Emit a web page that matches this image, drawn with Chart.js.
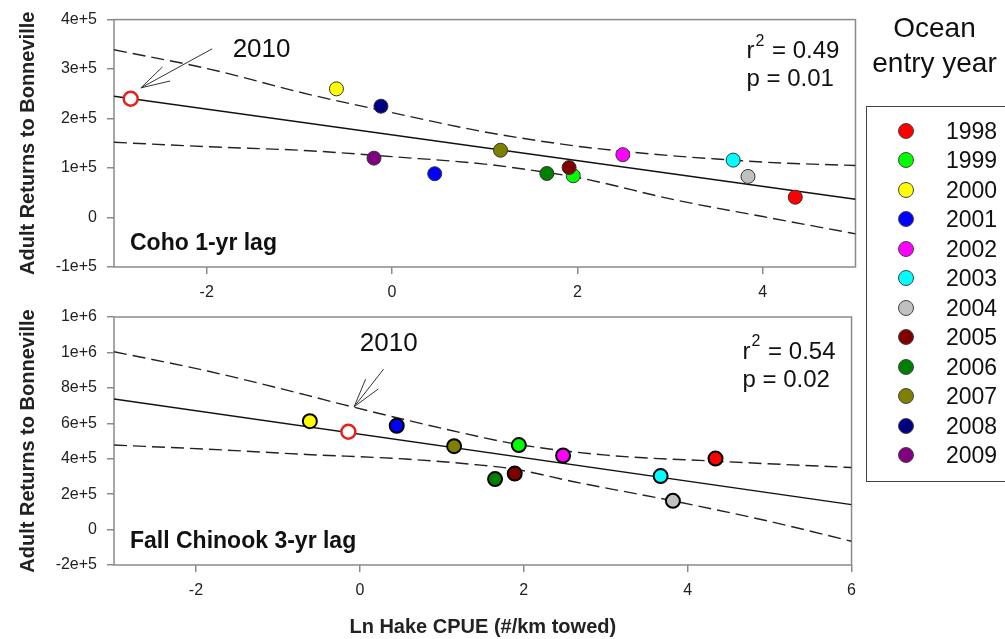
<!DOCTYPE html>
<html>
<head>
<meta charset="utf-8">
<script src="https://cdn.jsdelivr.net/npm/chart.js@4.4.1/dist/chart.umd.min.js"></script>
<style>
  body { margin: 0; background: #fff; font-family: "Liberation Sans", Arial, sans-serif; }
  #wrap { position: relative; width: 1005px; height: 639px; overflow: hidden; }
  #topChart { position: absolute; left: 0; top: 0; }
  #botChart { position: absolute; left: 0; top: 290px; }
  #legendTitle { position: absolute; left: 862px; top: 10px; width: 145px; text-align: center; font-size: 28px; line-height: 35px; color: #111; }
  #legendBox { position: absolute; left: 866px; top: 106px; width: 150px; height: 374px; border: 1px solid #444; }
  .row { position: absolute; left: 0; height: 28px; width: 150px; }
  .dot { position: absolute; left: 31px; top: 6px; width: 14px; height: 14px; border-radius: 50%; border: 1px solid #444; }
  .yr { position: absolute; left: 79px; top: 0; font-size: 23px; line-height: 28px; color: #111; }
</style>
</head>
<body>
<div id="wrap">
  <canvas id="topChart" width="865" height="300"></canvas>
  <canvas id="botChart" width="865" height="349"></canvas>
  <div id="legendTitle">Ocean<br>entry year</div>
  <div id="legendBox"></div>
</div>
<script>
// legend / colours, in year order
const years = ['1998', '1999', '2000', '2001', '2002', '2003', '2004', '2005', '2006', '2007', '2008', '2009'];
const yearColors = ['#ff0000', '#00ff00', '#ffff00', '#0000ff', '#ff00ff', '#00ffff',
                    '#c0c0c0', '#800000', '#008000', '#808000', '#000080', '#800080'];

// Coho 1-yr lag (1998..2009)
const cohoX = [4.35, 1.955, -0.60, 0.46, 2.49, 3.68, 3.84, 1.91, 1.67, 1.17, -0.12, -0.195];
const cohoY = [0.41e5, 0.845e5, 2.60e5, 0.885e5, 1.27e5, 1.16e5, 0.83e5, 1.01e5, 0.89e5, 1.36e5, 2.25e5, 1.20e5];
const coho2010X = -2.82;
const coho2010Y = 2.40e5;
const cohoFitX = [-3, 5];
const cohoFitY = [2.45e5, 0.37e5];
const cohoUpperX = [-3, -1.97, -0.9, 0, 1.0, 2.0, 2.49, 3.07, 3.68, 4, 5];
const cohoUpperY = [3.39e5, 3.00e5, 2.49e5, 2.12e5, 1.73e5, 1.44e5, 1.34e5, 1.24e5, 1.16e5, 1.12e5, 1.05e5];
const cohoLowerX = [-3, -1.97, -0.9, 0, 1.0, 1.67, 2.0, 3.07, 4, 5];
const cohoLowerY = [1.52e5, 1.43e5, 1.35e5, 1.23e5, 1.08e5, 0.91e5, 0.81e5, 0.35e5, 0.02e5, -0.33e5];

// Fall Chinook 3-yr lag (1998..2007)
const chinookX = [4.34, 1.94, -0.61, 0.45, 2.48, 3.67, 3.82, 1.89, 1.65, 1.15];
const chinookY = [4.01e5, 4.77e5, 6.12e5, 5.86e5, 4.18e5, 3.02e5, 1.62e5, 3.16e5, 2.85e5, 4.71e5];
const chinook2010X = -0.14;
const chinook2010Y = 5.52e5;
const chinookFitX = [-3, 6];
const chinookFitY = [7.37e5, 1.41e5];
const chinookUpperX = [-3, -1.86, -0.65, -0.2, 1.52, 1.94, 3.01, 4.34, 6];
const chinookUpperY = [10.04e5, 8.95e5, 7.59e5, 7.05e5, 5.18e5, 4.80e5, 4.20e5, 3.86e5, 3.50e5];
const chinookLowerX = [-3, -1.86, -0.65, 0.56, 1.4, 1.89, 2.61, 3.82, 5.02, 6];
const chinookLowerY = [4.77e5, 4.54e5, 4.24e5, 3.98e5, 3.67e5, 3.41e5, 2.70e5, 1.62e5, 0.44e5, -0.66e5];

// ticks
const cohoXTicks = [-2, 0, 2, 4];
const cohoYTicks = [-1e5, 0, 1e5, 2e5, 3e5, 4e5];
const cohoYLabels = ['-1e+5', '0', '1e+5', '2e+5', '3e+5', '4e+5'];
const chinookXTicks = [-2, 0, 2, 4, 6];
const chinookYTicks = [-2e5, 0, 2e5, 4e5, 6e5, 8e5, 10e5, 12e5];
const chinookYLabels = ['-2e+5', '0', '2e+5', '4e+5', '6e+5', '8e+5', '1e+6', '1e+6'];

Chart.defaults.font.family = '"Liberation Sans", Arial, sans-serif';
Chart.defaults.color = '#222';

const pts = (xs, ys) => xs.map((x, i) => ({x: x, y: ys[i]}));
const FRAME = '#8a8a8a';

// frame box + text notes + 2010 arrow
const notesPlugin = {
    id: 'notes',
    beforeDatasetsDraw(chart, args, o) {
        const {ctx, chartArea: a} = chart;
        ctx.save();
        ctx.strokeStyle = FRAME;
        ctx.lineWidth = 1.5;
        ctx.strokeRect(a.left, a.top, a.right - a.left, a.bottom - a.top);
        ctx.restore();
    },
    afterDatasetsDraw(chart, args, o) {
        const {ctx, chartArea: a, scales: {x, y}} = chart;
        ctx.save();
        ctx.fillStyle = '#111';
        ctx.textBaseline = 'middle';

        // panel label
        ctx.font = 'bold 23px "Liberation Sans", Arial';
        ctx.fillText(o.label, a.left + 16, a.bottom - 23);

        // r2 / p
        const sx = a.right - 109;
        let sy = a.top + o.statDy;
        ctx.font = '24px "Liberation Sans", Arial';
        ctx.fillText('r', sx, sy);
        let w = ctx.measureText('r').width;
        ctx.font = '16px "Liberation Sans", Arial';
        ctx.fillText('2', sx + w + 1, sy - 10);
        let w2 = ctx.measureText('2').width;
        ctx.font = '24px "Liberation Sans", Arial';
        ctx.fillText(' = ' + o.r2, sx + w + w2 + 2, sy);
        ctx.fillText('p = ' + o.p, sx, sy + 28);

        // 2010 tag
        ctx.font = '26px "Liberation Sans", Arial';
        ctx.fillText('2010', x.getPixelForValue(o.tagAt[0]), y.getPixelForValue(o.tagAt[1]));

        // arrow
        const x0 = x.getPixelForValue(o.arrowFrom[0]), y0 = y.getPixelForValue(o.arrowFrom[1]);
        const x1 = x.getPixelForValue(o.arrowTo[0]), y1 = y.getPixelForValue(o.arrowTo[1]);
        const ang = Math.atan2(y0 - y1, x0 - x1);
        ctx.strokeStyle = '#333';
        ctx.lineWidth = 1;
        ctx.beginPath();
        ctx.moveTo(x0, y0);
        ctx.lineTo(x1, y1);
        [-0.27, 0.27].forEach(d => {
            ctx.moveTo(x1, y1);
            ctx.lineTo(x1 + 30 * Math.cos(ang + d), y1 + 30 * Math.sin(ang + d));
        });
        ctx.stroke();
        ctx.restore();
    }
};

function buildChart(id, cfg) {
    return new Chart(document.getElementById(id), {
        type: 'scatter',
        data: {
            datasets: [
                {
                    data: pts(cfg.px, cfg.py),
                    pointRadius: 7,
                    pointBackgroundColor: cfg.colors,
                    pointBorderColor: cfg.dotBorder,
                    pointBorderWidth: cfg.dotBorderWidth
                },
                {
                    data: [{x: cfg.x2010, y: cfg.y2010}],
                    pointRadius: 7,
                    pointBackgroundColor: '#ffffff',
                    pointBorderColor: '#e8201c',
                    pointBorderWidth: 2.5
                },
                {
                    data: pts(cfg.fitX, cfg.fitY),
                    showLine: true, pointRadius: 0,
                    borderColor: '#111', borderWidth: 1.4
                },
                {
                    data: pts(cfg.upX, cfg.upY),
                    showLine: true, pointRadius: 0,
                    borderColor: '#222', borderWidth: 1.4, borderDash: [13, 6],
                    cubicInterpolationMode: 'monotone'
                },
                {
                    data: pts(cfg.loX, cfg.loY),
                    showLine: true, pointRadius: 0,
                    borderColor: '#222', borderWidth: 1.4, borderDash: [13, 6],
                    cubicInterpolationMode: 'monotone'
                }
            ]
        },
        options: {
            responsive: false,
            animation: false,
            events: [],
            layout: {padding: {top: cfg.padTop, right: 5, left: 0, bottom: 0}},
            plugins: {
                legend: {display: false},
                tooltip: {enabled: false},
                notes: cfg.notes
            },
            scales: {
                x: {
                    type: 'linear',
                    min: cfg.xMin, max: cfg.xMax,
                    afterBuildTicks: s => { s.ticks = cfg.xTicks.map(v => ({value: v})); },
                    afterFit: s => { s.height = cfg.xHeight; },
                    border: {display: false},
                    grid: {drawOnChartArea: false, drawTicks: true, tickLength: 7, color: FRAME, lineWidth: 1.5},
                    ticks: {font: {size: 16}, padding: 9, color: '#222'},
                    title: cfg.xTitle ? {
                        display: true, text: 'Ln Hake CPUE (#/km towed)',
                        font: {size: 20, weight: 'bold'}, color: '#222', padding: {top: 0, bottom: 0}
                    } : {display: false}
                },
                y: {
                    type: 'linear',
                    min: cfg.yMin, max: cfg.yMax,
                    afterBuildTicks: s => { s.ticks = cfg.yTicks.map(v => ({value: v})); },
                    afterFit: s => { s.width = 114; },
                    border: {display: false},
                    grid: {drawOnChartArea: false, drawTicks: true, tickLength: 7, color: FRAME, lineWidth: 1.5},
                    ticks: {
                        font: {size: 16}, padding: 10, color: '#222',
                        callback: (v, i) => cfg.yLabels[i]
                    },
                    title: {
                        display: true, text: 'Adult Returns to Bonneville',
                        font: {size: 20, weight: 'bold'}, color: '#222', padding: {top: 16, bottom: 0}
                    }
                }
            }
        },
        plugins: [notesPlugin]
    });
}

buildChart('topChart', {
    px: cohoX, py: cohoY, colors: yearColors.slice(0, cohoX.length),
    dotBorder: '#333', dotBorderWidth: 1,
    x2010: coho2010X, y2010: coho2010Y,
    fitX: cohoFitX, fitY: cohoFitY,
    upX: cohoUpperX, upY: cohoUpperY, loX: cohoLowerX, loY: cohoLowerY,
    xMin: -3, xMax: 5, yMin: -1e5, yMax: 4e5,
    xTicks: cohoXTicks, yTicks: cohoYTicks, yLabels: cohoYLabels,
    padTop: 18, xHeight: 33, xTitle: false,
    notes: {
        label: 'Coho 1-yr lag', r2: '0.49', p: '0.01', statDy: 32,
        tagAt: [-1.72, 3.39e5], arrowFrom: [-1.94, 3.41e5], arrowTo: [-2.71, 2.62e5]
    }
});

buildChart('botChart', {
    px: chinookX, py: chinookY, colors: yearColors.slice(0, chinookX.length),
    dotBorder: '#000', dotBorderWidth: 2,
    x2010: chinook2010X, y2010: chinook2010Y,
    fitX: chinookFitX, fitY: chinookFitY,
    upX: chinookUpperX, upY: chinookUpperY, loX: chinookLowerX, loY: chinookLowerY,
    xMin: -3, xMax: 6, yMin: -2e5, yMax: 12e5,
    xTicks: chinookXTicks, yTicks: chinookYTicks, yLabels: chinookYLabels,
    padTop: 27, xHeight: 74, xTitle: true,
    notes: {
        label: 'Fall Chinook 3-yr lag', r2: '0.54', p: '0.02', statDy: 35,
        tagAt: [0.0, 10.51e5], arrowFrom: [0.29, 9.06e5], arrowTo: [-0.07, 6.93e5]
    }
});

// legend rows
const box = document.getElementById('legendBox');
years.forEach((yr, i) => {
    const row = document.createElement('div');
    row.className = 'row';
    row.style.top = (24 + i * 29.45 - 14) + 'px';
    row.innerHTML = '<span class="dot" style="background:' + yearColors[i] + '"></span><span class="yr">' + yr + '</span>';
    box.appendChild(row);
});
</script>
</body>
</html>
